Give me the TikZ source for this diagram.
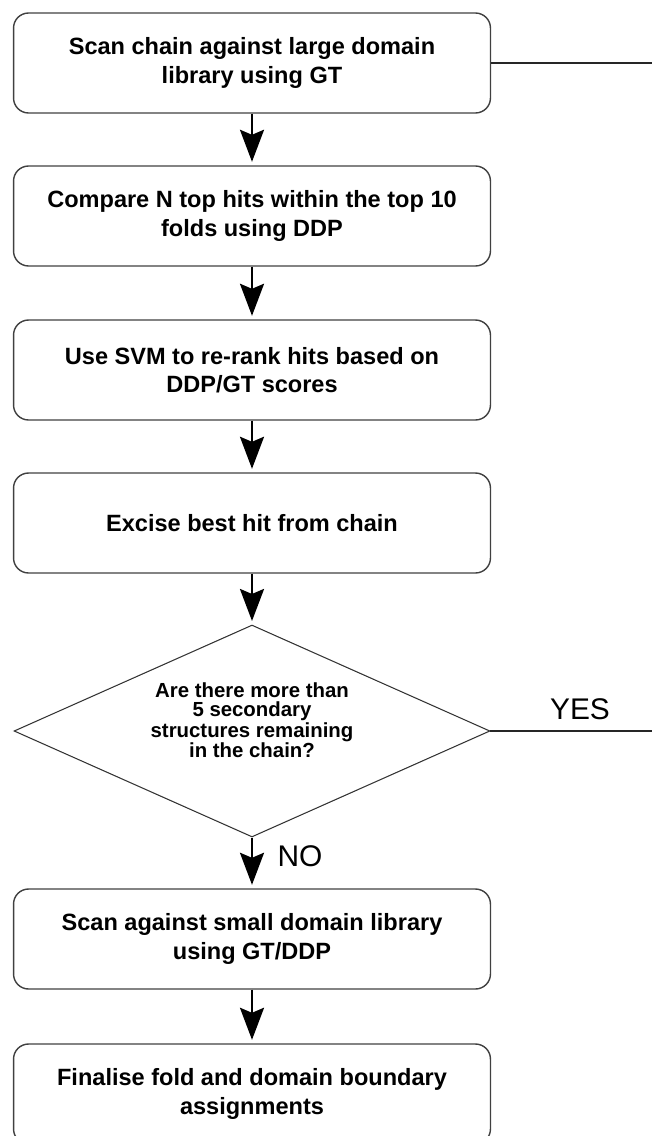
\documentclass[tikz,border=0pt]{standalone}
\usepackage{fontspec}
\setmainfont{Liberation Sans}
\usetikzlibrary{arrows.meta,shapes.geometric}

\begin{document}
\begin{tikzpicture}[x=0.02cm,y=-0.02cm]
			\tikzstyle{process} = [
				rectangle, rounded corners = 0.3cm, draw = black!75,
				line width = 0.8pt, inner sep = 0pt, align = center,
				minimum width = 9.54cm, minimum height = 2cm,
				font = \fontsize{13.4}{16}\selectfont\bfseries
			]
			\tikzstyle{decision} = [
				diamond, draw = black!80, line width = 0.6pt,
				inner sep = -30pt, align = center, text depth = 12pt,
				minimum width = 9.52cm, minimum height = 4.24cm,
				font = \fontsize{11.6}{10.6}\selectfont\bfseries
			]
			\tikzstyle{flow}=[-{Stealth[length=0.64cm,width=0.48cm,inset=0.1cm]},draw=black,shorten >=2pt,line width=1.4pt]
			\tikzstyle{loop}=[-,draw=black!85,line width=0.8pt]
			\tikzstyle{answer}=[font=\fontsize{17}{20}\selectfont]
			\useasboundingbox (0,0) rectangle (652,1136);
			\node[process] (scan) at (252, 63) {Scan chain against large domain\\library using GT};
			\node[process] (compare) at (252, 216) {Compare N top hits within the top 10\\folds using DDP};
			\node[process] (rerank) at (252, 370) {Use SVM to re-rank hits based on\\DDP/GT scores};
			\node[process] (excise) at (252, 523) {Excise best hit from chain};
			\node[decision] (check) at (252, 731) {Are there more than\\5 secondary\\structures remaining\\in the chain?};
			\node[process] (smallscan) at (252, 939) {Scan against small domain library\\using GT/DDP};
			\node[process] (finalise) at (252, 1094) {Finalise fold and domain boundary\\assignments};
			\coordinate (loopout) at (652, 63);
			\coordinate (yesout) at (652, 731);
			\node[answer] (yes) at (580, 709) {YES};
			\node[answer] (no) at (300, 856) {NO};
			\draw (scan) to (compare) [flow];
			\draw (compare) to (rerank) [flow];
			\draw (rerank) to (excise) [flow];
			\draw (excise) to (check) [flow];
			\draw (check) to (smallscan) [flow];
			\draw (smallscan) to (finalise) [flow];
			\draw (scan.east) to (loopout) [loop];
			\draw (check.east) to (yesout) [loop];
		\end{tikzpicture}
\end{document}
